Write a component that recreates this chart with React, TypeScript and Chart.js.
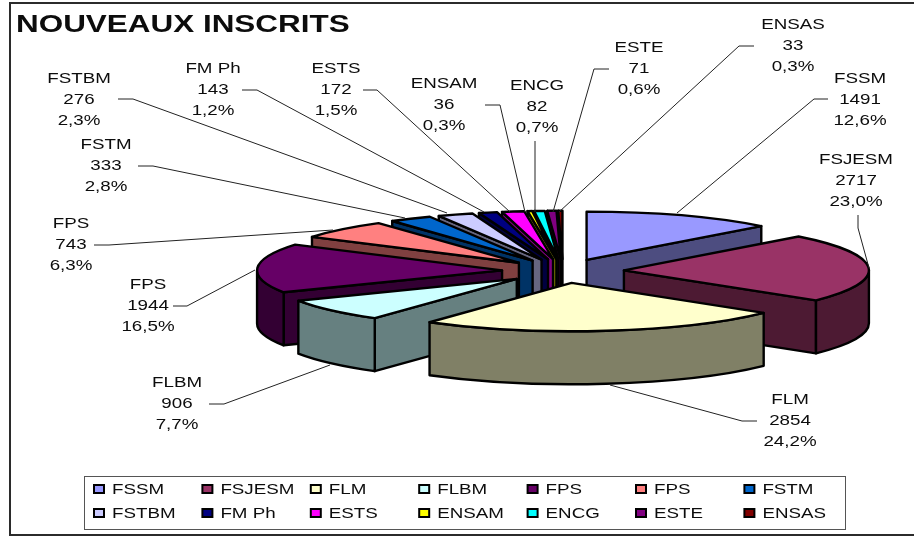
import React, { useEffect, useRef } from "react";
import { Chart, registerables } from "chart.js";

Chart.register(...registerables);

const TITLE = "NOUVEAUX INSCRITS";
const SCHOOLS = ["FSSM", "FSJESM", "FLM", "FLBM", "FPS", "FPS", "FSTM", "FSTBM", "FM Ph", "ESTS", "ENSAM", "ENCG", "ESTE", "ENSAS"];
const INSCRITS = [1491, 2717, 2854, 906, 1944, 743, 333, 276, 143, 172, 36, 82, 71, 33];
const PERCENTS = ["12,6%", "23,0%", "24,2%", "7,7%", "16,5%", "6,3%", "2,8%", "2,3%", "1,2%", "1,5%", "0,3%", "0,7%", "0,6%", "0,3%"];
const TOP_COLORS = ["#9999FF", "#993366", "#FFFFCC", "#CCFFFF", "#660066", "#FF8080", "#0066CC", "#CCCCFF", "#000080", "#FF00FF", "#FFFF00", "#00FFFF", "#800080", "#800000"];
const SIDE_COLORS = ["#4D4D80", "#4D1A33", "#808066", "#668080", "#330033", "#804040", "#003366", "#666680", "#000040", "#800080", "#808000", "#008080", "#400040", "#400000"];

// Layout of the callouts: label centre and first row's y, then the leader polyline.
const CALLOUT_X = [860, 856, 790, 177, 148, 71, 106, 79, 213, 336, 444, 537, 639, 793];
const CALLOUT_Y = [79, 160, 400, 383, 285, 224, 145, 79, 69, 69, 84, 86, 48, 25];
const LEADERS = [
  [[828, 99], [814, 99], [677, 213]],
  [[858, 215], [858, 228], [869, 268]],
  [[757, 421], [742, 421], [610, 385]],
  [[209, 404], [224, 404], [330, 365]],
  [[173, 306], [187, 306], [255, 270]],
  [[94, 245], [109, 245], [333, 230]],
  [[138, 166], [153, 166], [405, 218]],
  [[118, 99], [133, 99], [447, 213]],
  [[242, 90], [257, 90], [484, 212]],
  [[363, 90], [377, 90], [510, 212]],
  [[485, 105], [500, 105], [525, 212]],
  [[535, 141], [535, 212]],
  [[609, 69], [594, 69], [553, 212]],
  [[754, 46], [739, 46], [559, 212]],
];

const TILT = 0.197;
const DEPTH = 53;
const EXPLODE = 61;
const STRETCH = 1.25;
const FONT = '15px "Liberation Sans", Arial, sans-serif';

function stretchedText(ctx: CanvasRenderingContext2D, text: string, x: number, y: number, align: CanvasTextAlign, font: string, stretch = STRETCH) {
  ctx.save();
  ctx.translate(x, y);
  ctx.scale(stretch, 1);
  ctx.font = font;
  ctx.fillStyle = "#0c0c0c";
  ctx.textAlign = align;
  ctx.textBaseline = "middle";
  ctx.fillText(text, 0, 0);
  ctx.restore();
}

const pie3d = {
  id: "pie3d",
  beforeDatasetsDraw(chart: any) {
    const ctx: CanvasRenderingContext2D = chart.ctx;
    const arcs: any[] = chart.getDatasetMeta(0).data;
    const items = arcs.map((arc, i) => {
      const mid = (arc.startAngle + arc.endAngle) / 2;
      return {
        arc,
        i,
        ax: arc.x + Math.cos(mid) * EXPLODE,
        ay: arc.y + TILT * Math.sin(mid) * EXPLODE,
      };
    });
    items.sort((a, b) => a.ay - b.ay);
    ctx.save();
    ctx.lineJoin = "round";
    ctx.lineWidth = 2.4;
    ctx.strokeStyle = "#000";
    for (const { arc, i, ax, ay } of items) {
      const R = arc.outerRadius;
      const a0 = arc.startAngle;
      const a1 = arc.endAngle;
      const radial = (a: number) => {
        const tx = ax + R * Math.cos(a);
        const ty = ay + TILT * R * Math.sin(a);
        ctx.beginPath();
        ctx.moveTo(ax, ay);
        ctx.lineTo(tx, ty);
        ctx.lineTo(tx, ty + DEPTH);
        ctx.lineTo(ax, ay + DEPTH);
        ctx.closePath();
        ctx.fillStyle = SIDE_COLORS[i];
        ctx.fill();
        ctx.stroke();
      };
      // Radial faces turned towards the viewer.
      if (Math.cos(a0) < 0) radial(a0);
      if (Math.cos(a1) > 0) radial(a1);
      // Outer wall on the front half of the ellipse.
      const t0 = Math.max(a0, 0);
      const t1 = Math.min(a1, Math.PI);
      if (t1 > t0) {
        ctx.beginPath();
        ctx.ellipse(ax, ay, R, TILT * R, 0, t0, t1);
        ctx.ellipse(ax, ay + DEPTH, R, TILT * R, 0, t1, t0, true);
        ctx.closePath();
        ctx.fillStyle = SIDE_COLORS[i];
        ctx.fill();
        ctx.stroke();
      }
      // Top face, drawn by the library's own arc element under a squash.
      ctx.save();
      ctx.translate(ax, ay);
      ctx.scale(1, TILT);
      ctx.translate(-arc.x, -arc.y);
      arc.draw(ctx);
      ctx.restore();
      ctx.beginPath();
      ctx.moveTo(ax, ay);
      ctx.ellipse(ax, ay, R, TILT * R, 0, a0, a1);
      ctx.closePath();
      ctx.stroke();
    }
    ctx.restore();
    return false;
  },
  afterDraw(chart: any) {
    const ctx: CanvasRenderingContext2D = chart.ctx;
    ctx.save();
    // Frame
    ctx.strokeStyle = "#2b2b2b";
    ctx.lineWidth = 2;
    ctx.strokeRect(10, 3, 930, 532);
    // Title
    stretchedText(ctx, TITLE, 16, 25, "left", 'bold 24px "Liberation Sans", Arial, sans-serif', 1.31);
    // Leaders
    ctx.strokeStyle = "#222";
    ctx.lineWidth = 1;
    for (const pts of LEADERS) {
      ctx.beginPath();
      pts.forEach(([x, y], k) => (k ? ctx.lineTo(x, y) : ctx.moveTo(x, y)));
      ctx.stroke();
    }
    // Callout text
    SCHOOLS.forEach((name, i) => {
      const rows = [name, String(INSCRITS[i]), PERCENTS[i]];
      rows.forEach((t, r) => stretchedText(ctx, t, CALLOUT_X[i], CALLOUT_Y[i] + r * 21, "center", FONT));
    });
    // Legend
    ctx.fillStyle = "#fff";
    ctx.strokeStyle = "#555";
    ctx.lineWidth = 1;
    ctx.fillRect(84, 476, 761, 53);
    ctx.strokeRect(84.5, 476.5, 761, 53);
    SCHOOLS.forEach((name, i) => {
      const col = i % 7;
      const row = Math.floor(i / 7);
      const x = 93 + col * 108.4;
      const y = 489 + row * 24;
      ctx.fillStyle = TOP_COLORS[i];
      ctx.strokeStyle = "#000";
      ctx.lineWidth = 2;
      ctx.fillRect(x + 1, y - 4, 10, 8);
      ctx.strokeRect(x + 1, y - 4, 10, 8);
      stretchedText(ctx, name, x + 19, y + 1, "left", FONT);
    });
    ctx.restore();
  },
};

export default function App() {
  const ref = useRef<HTMLCanvasElement>(null);
  useEffect(() => {
    const chart = new Chart(ref.current!, {
      type: "pie",
      data: {
        labels: SCHOOLS,
        datasets: [{ data: INSCRITS, backgroundColor: TOP_COLORS, borderWidth: 0 }],
      },
      options: {
        animation: false,
        responsive: false,
        radius: 245,
        rotation: 0,
        layout: { padding: { left: 212, top: 6 } },
        plugins: { legend: { display: false }, tooltip: { enabled: false }, title: { display: false } },
      },
      plugins: [pie3d],
    } as any);
    return () => chart.destroy();
  }, []);
  return (
    <div style={{ position: "absolute", left: 0, top: 0, width: 914, height: 536, background: "#fff", overflow: "hidden" }}>
      <canvas ref={ref} width={914} height={536} style={{ display: "block" }} />
    </div>
  );
}
